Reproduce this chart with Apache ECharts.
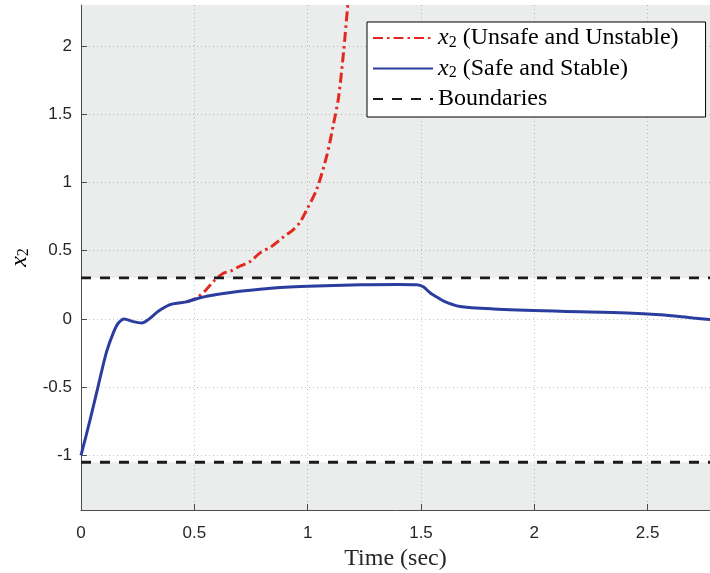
<!DOCTYPE html>
<html>
<head>
<meta charset="utf-8">
<script src="https://cdn.jsdelivr.net/npm/echarts@6/dist/echarts.min.js"></script>
<style>html,body{margin:0;padding:0;background:#fff}#c{width:710px;height:573px}</style>
</head>
<body>
<div id="c"></div>
<script>
// ---- data ----
var timeSafe = [0, 0.04, 0.076, 0.113, 0.143, 0.165, 0.19, 0.23, 0.268, 0.297, 0.341, 0.393, 0.437, 0.465, 0.518, 0.58, 0.636, 0.70, 0.79, 0.879, 1.0, 1.232, 1.40, 1.482, 1.51, 1.541, 1.57, 1.60, 1.666, 1.82, 2.115, 2.41, 2.556, 2.70, 2.78];
var x2Safe = [-1, -0.74, -0.49, -0.24, -0.10, -0.03, 0.0, -0.02, -0.03, -0.005, 0.056, 0.105, 0.118, 0.125, 0.152, 0.173, 0.188, 0.202, 0.218, 0.23, 0.24, 0.25, 0.252, 0.25, 0.235, 0.19, 0.16, 0.13, 0.093, 0.073, 0.056, 0.044, 0.03, 0.007, -0.005];
var timeUnsafe = [0.465, 0.51, 0.55, 0.584, 0.628, 0.66, 0.70, 0.746, 0.79, 0.84, 0.893, 0.937, 0.967, 0.996, 1.04, 1.085, 1.113, 1.136, 1.158, 1.176, 1.19];
var x2Unsafe = [0.125, 0.154, 0.21, 0.275, 0.335, 0.35, 0.386, 0.42, 0.484, 0.53, 0.60, 0.655, 0.71, 0.80, 0.95, 1.2, 1.42, 1.62, 1.95, 2.28, 2.55];
var boundUpper = 0.3;
var boundLower = -1.05;
var xTicks = [0, 0.5, 1, 1.5, 2, 2.5];
var yTicks = [-1, -0.5, 0, 0.5, 1, 1.5, 2];
var xRange = [0, 2.775];
var yRange = [-1.4, 2.3];
var names = ['x2 (Unsafe and Unstable)', 'x2 (Safe and Stable)', 'Boundaries'];

function pairs(t, v) { return t.map(function (x, i) { return [x, v[i]]; }); }

var serif = 'Liberation Serif';
var rich = {
  i: { fontFamily: serif, fontStyle: 'italic', fontSize: 24, color: '#000' },
  s: { fontFamily: serif, fontSize: 16, color: '#000', padding: [9, 0, 0, 0] }
};
function fmtName(n) {
  return n.replace(/^x2/, '{i|x}{s|2}');
}

var chart = echarts.init(document.getElementById('c'), null, { renderer: 'canvas' });
chart.setOption({
  animation: false,
  backgroundColor: '#fff',
  grid: { left: 81, right: 0, top: 5, bottom: 63, containLabel: false, outerBoundsMode: 'none' },
  legend: {
    data: names,
    orient: 'vertical',
    left: 367, top: 22,
    itemWidth: 60, itemHeight: 14, itemGap: 6,
    padding: [4, 27, 6, 5],
    backgroundColor: '#fff', borderColor: '#000', borderWidth: 1,
    borderRadius: 0,
    itemStyle: { opacity: 0 },
    formatter: fmtName,
    textStyle: { fontFamily: serif, fontSize: 24, color: '#000', lineHeight: 24, rich: rich }
  },
  xAxis: {
    type: 'value', min: xRange[0], max: xRange[1], interval: 0.1,
    name: 'Time (sec)', nameLocation: 'middle', nameGap: 30,
    nameTextStyle: { fontFamily: serif, fontSize: 24, color: '#262626' },
    axisLine: { show: true, onZero: false, lineStyle: { color: '#4d4d4d', width: 1 } },
    axisTick: { show: true, inside: true, length: 6, customValues: xTicks, lineStyle: { color: '#4d4d4d' } },
    axisLabel: { customValues: xTicks, margin: 15, fontFamily: 'Liberation Sans', fontSize: 17, color: '#262626',
      formatter: function (v) { return String(v); } },
    splitLine: { show: true, lineStyle: { color: '#c4c4c4', type: [1, 3], width: 1 } }
  },
  yAxis: {
    type: 'value', min: yRange[0], max: yRange[1], interval: 0.1,
    name: '{i|x}{s|2}', nameLocation: 'middle', nameGap: 42, nameRotate: 90,
    nameTextStyle: { rich: rich },
    axisLine: { show: true, onZero: false, lineStyle: { color: '#4d4d4d', width: 1 } },
    axisTick: { show: true, inside: true, length: 6, customValues: yTicks, lineStyle: { color: '#4d4d4d' } },
    axisLabel: { customValues: yTicks, margin: 9, fontFamily: 'Liberation Sans', fontSize: 17, color: '#262626',
      formatter: function (v) { return String(v); } },
    splitLine: { show: true, lineStyle: { color: '#c4c4c4', type: [1, 3], width: 1 } }
  },
  series: [
    {
      name: names[0], type: 'line', data: pairs(timeUnsafe, x2Unsafe),
      symbol: 'none', showSymbol: false, smooth: 0.3, clip: true, z: 2,
      lineStyle: { color: '#e3281f', width: 3, type: [10, 4, 2.5, 4] },
      itemStyle: { color: '#e3281f' }
    },
    {
      name: names[1], type: 'line', data: pairs(timeSafe, x2Safe),
      symbol: 'none', showSymbol: false, smooth: 0.3, clip: true, z: 3,
      lineStyle: { color: '#2b3d9e', width: 3 },
      itemStyle: { color: '#2b3d9e' }
    },
    {
      name: names[2], type: 'line', data: [[xRange[0], boundUpper], [xRange[1], boundUpper]],
      symbol: 'none', showSymbol: false, z: 4,
      lineStyle: { color: '#1a1a1a', width: 2.8, type: [10, 9] },
      itemStyle: { color: '#1a1a1a' },
      markArea: {
        silent: true,
        itemStyle: { color: 'rgba(20,40,40,0.085)' },
        data: [
          [{ yAxis: boundUpper }, { yAxis: yRange[1] }],
          [{ yAxis: yRange[0] }, { yAxis: boundLower }]
        ]
      }
    },
    {
      name: names[2], type: 'line', data: [[xRange[0], boundLower], [xRange[1], boundLower]],
      symbol: 'none', showSymbol: false, z: 4,
      lineStyle: { color: '#1a1a1a', width: 2.8, type: [10, 9] },
      itemStyle: { color: '#1a1a1a' }
    }
  ]
});
</script>
</body>
</html>
